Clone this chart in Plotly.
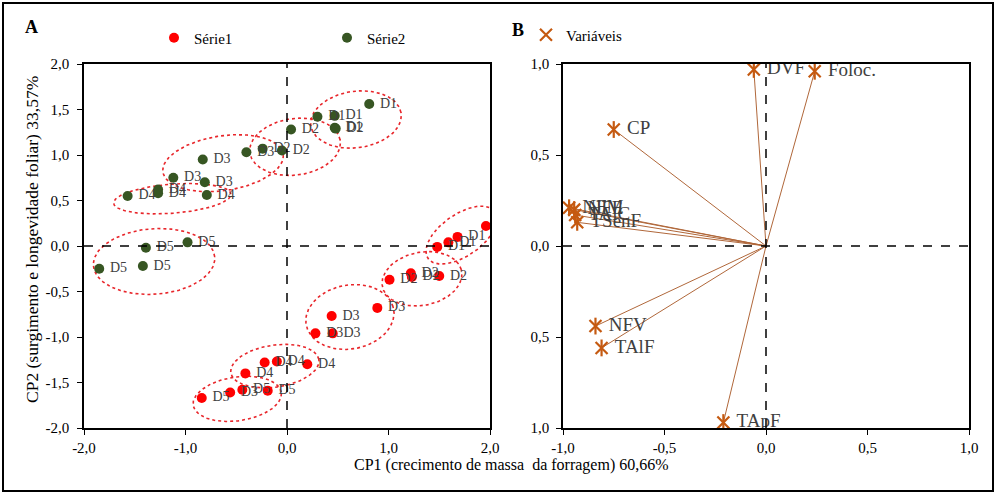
import numpy as np
import plotly.graph_objects as go

# ---------------- data ----------------
s1_x = [1.96, 1.68, 1.59, 1.48,
        1.01, 1.22, 1.23, 1.50,
        0.89, 0.44, 0.28, 0.45,
        -0.22, -0.10, 0.20, -0.41,
        -0.84, -0.56, -0.44, -0.19]
s1_y = [0.22, 0.10, 0.04, -0.01,
        -0.37, -0.30, -0.34, -0.33,
        -0.68, -0.77, -0.96, -0.96,
        -1.28, -1.27, -1.30, -1.40,
        -1.67, -1.61, -1.58, -1.59]
s1_lbl = ["D1", "D1", "D1", "D1",
          "D2", "D2", "D2", "D2",
          "D3", "D3", "D3", "D3",
          "D4", "D4", "D4", "D4",
          "D5", "D3", "D5", "D5"]

s2_x = [0.81, 0.30, 0.47, 0.47,
        0.04, 0.48, -0.05, -0.24,
        -0.40, -0.83, -1.12, -0.81,
        -1.27, -1.27, -0.79, -1.57,
        -0.98, -1.39, -1.42, -1.85]
s2_y = [1.56, 1.42, 1.43, 1.30,
        1.28, 1.29, 1.05, 1.07,
        1.03, 0.95, 0.75, 0.70,
        0.62, 0.58, 0.56, 0.55,
        0.04, -0.02, -0.22, -0.25]
s2_lbl = ["D1", "D1", "D1", "D1",
          "D2", "D2", "D2", "D2",
          "D3", "D3", "D3", "D3",
          "D4", "D4", "D4", "D4",
          "D5", "D5", "D5", "D5"]

# group ellipses: centre x, centre y, semi-axis x, semi-axis y, rotation (deg)
ell_cx = [0.68, 0.08, -0.63, -1.13, -1.31, 1.72, 1.33, 0.62, -0.12, -0.49]
ell_cy = [1.39, 1.09, 0.91, 0.52, -0.17, 0.12, -0.36, -0.78, -1.32, -1.68]
ell_rx = [0.45, 0.45, 0.60, 0.58, 0.60, 0.42, 0.40, 0.44, 0.44, 0.44]
ell_ry = [0.31, 0.31, 0.30, 0.16, 0.36, 0.22, 0.29, 0.35, 0.23, 0.24]
ell_ang = [10, 10, 10, 5, 5, 40, 15, 15, 10, 10]

var_names = ["DVF", "Foloc.", "CP", "NFM", "NFE", "TAlC", "TSenF", "NFV", "TAlF", "TApF"]
var_x = [-0.06, 0.24, -0.75, -0.97, -0.945, -0.94, -0.93, -0.84, -0.81, -0.21]
var_y = [0.97, 0.96, 0.64, 0.21, 0.20, 0.17, 0.13, -0.44, -0.56, -0.97]

a_yticks = [-2.0, -1.5, -1.0, -0.5, 0.0, 0.5, 1.0, 1.5, 2.0]
a_yticktext = ["-2,0", "-1,5", "-1,0", "-0,5", "0,0", "0,5", "1,0", "1,5", "2,0"]
a_xticks = [-2.0, -1.0, 0.0, 1.0, 2.0]
a_xticktext = ["-2,0", "-1,0", "0,0", "1,0", "2,0"]
b_xticks = [-1.0, -0.5, 0.0, 0.5, 1.0]
b_xticktext = ["-1,0", "-0,5", "0,0", "0,5", "1,0"]
b_yticks = [-1.0, -0.5, 0.0, 0.5, 1.0]
b_yticktext = ["1,0", "0,5", "0,0", "0,5", "1,0"]

# ---------------- styling ----------------
FONT = "Liberation Serif, Times New Roman, serif"
RED = "#ff0000"
GREEN = "#375623"
ORANGE = "#c55a11"
VLINE = "#b0673a"
TXT = "#404040"

W, H = 996, 494
def px(v):
    return v / W
def py(v):
    return 1 - v / H

fig = go.Figure()

# ellipses
t = np.linspace(0, 2 * np.pi, 200)
for cx, cy, rx, ry, ang in zip(ell_cx, ell_cy, ell_rx, ell_ry, ell_ang):
    a = np.deg2rad(ang)
    ex = cx + rx * np.cos(t) * np.cos(a) - ry * np.sin(t) * np.sin(a)
    ey = cy + rx * np.cos(t) * np.sin(a) + ry * np.sin(t) * np.cos(a)
    fig.add_trace(go.Scatter(x=ex, y=ey, mode="lines", xaxis="x", yaxis="y",
                             line=dict(color="#e8262b", width=1.6, dash="dot"),
                             showlegend=False, hoverinfo="skip"))

fig.add_trace(go.Scatter(x=s1_x, y=s1_y, text=s1_lbl, mode="markers+text", name="Série1",
                         xaxis="x", yaxis="y", legend="legend",
                         marker=dict(color=RED, size=10),
                         texttemplate="\u00a0%{text}",
                         textposition="middle right",
                         textfont=dict(family=FONT, size=14, color=TXT)))
fig.add_trace(go.Scatter(x=s2_x, y=s2_y, text=s2_lbl, mode="markers+text", name="Série2",
                         xaxis="x", yaxis="y", legend="legend",
                         marker=dict(color=GREEN, size=10),
                         texttemplate="\u00a0%{text}",
                         textposition="middle right",
                         textfont=dict(family=FONT, size=14, color=TXT)))

# panel B: vectors from origin
lx, ly = [], []
for vx, vy in zip(var_x, var_y):
    lx += [0, vx, None]
    ly += [0, vy, None]
fig.add_trace(go.Scatter(x=lx, y=ly, mode="lines", xaxis="x2", yaxis="y2",
                         line=dict(color=VLINE, width=1), showlegend=False, hoverinfo="skip"))
fig.add_trace(go.Scatter(x=var_x, y=var_y, mode="markers", xaxis="x2", yaxis="y2",
                         marker=dict(symbol="line-ns-open", size=12, color=ORANGE,
                                     line=dict(color=ORANGE, width=2.2)),
                         showlegend=False, hoverinfo="skip"))
fig.add_trace(go.Scatter(x=var_x, y=var_y, text=var_names, mode="markers+text", name="Variáveis",
                         xaxis="x2", yaxis="y2", legend="legend2",
                         marker=dict(symbol="x-thin-open", size=12, color=ORANGE,
                                     line=dict(color=ORANGE, width=2.2)),
                         texttemplate="\u00a0%{text}",
                         textposition="middle right",
                         textfont=dict(family=FONT, size=19, color=TXT)))

axis_common = dict(showline=True, linecolor="black", linewidth=1.5, mirror=True,
                   ticks="outside", ticklen=5, tickcolor="black", showgrid=False, zeroline=False,
                   automargin=False,
                   tickfont=dict(family=FONT, size=15, color="black"))

dom_y = [py(428), py(64)]
fig.update_layout(
    template="none",
    width=W, height=H,
    margin=dict(l=0, r=0, t=0, b=0, pad=0, autoexpand=False),
    paper_bgcolor="white", plot_bgcolor="white",
    font=dict(family=FONT, size=15, color="black"),
    xaxis=dict(domain=[px(84), px(490)], range=[-2, 2], tickvals=a_xticks, ticktext=a_xticktext,
               anchor="y", **axis_common),
    yaxis=dict(domain=dom_y, range=[-2, 2], tickvals=a_yticks, ticktext=a_yticktext,
               anchor="x", ticklabelstandoff=5, **axis_common),
    xaxis2=dict(domain=[px(563), px(969)], range=[-1, 1], tickvals=b_xticks, ticktext=b_xticktext,
                anchor="y2", **axis_common),
    yaxis2=dict(domain=dom_y, range=[-1, 1], tickvals=b_yticks, ticktext=b_yticktext,
                anchor="x2", ticklabelstandoff=4, **axis_common),
    legend=dict(orientation="h", x=px(154), y=py(38), xanchor="left", yanchor="middle",
                entrywidth=128, entrywidthmode="pixels", itemwidth=30,
                font=dict(family=FONT, size=15, color="black"), bgcolor="rgba(0,0,0,0)"),
    legend2=dict(orientation="h", x=px(526), y=py(35), xanchor="left", yanchor="middle",
                 itemwidth=30,
                 font=dict(family=FONT, size=15, color="black"), bgcolor="rgba(0,0,0,0)"),
    showlegend=True,
    hovermode="closest",
)

# dashed zero lines
for xr, yr in (("x", "y"), ("x2", "y2")):
    fig.add_shape(type="line", xref=xr, yref=yr + " domain", x0=0, x1=0, y0=0, y1=1,
                  line=dict(color="black", width=1.5, dash="dash"))
    fig.add_shape(type="line", xref=xr + " domain", yref=yr, x0=0, x1=1, y0=0, y1=0,
                  line=dict(color="black", width=1.5, dash="dash"))

# outer frame
fig.add_shape(type="rect", xref="paper", yref="paper", x0=px(3), x1=px(993), y0=py(491), y1=py(3),
              line=dict(color="black", width=2))

# annotations: panel letters and axis titles
fig.add_annotation(text="<b>A</b>", xref="paper", yref="paper", x=px(31), y=py(27),
                   xanchor="center", yanchor="middle",
                   showarrow=False, font=dict(family=FONT, size=18, color="black"))
fig.add_annotation(text="<b>B</b>", xref="paper", yref="paper", x=px(518), y=py(30),
                   xanchor="center", yanchor="middle",
                   showarrow=False, font=dict(family=FONT, size=18, color="black"))
fig.add_annotation(text="CP1 (crecimento de massa  da forragem) 60,66%", xref="paper", yref="paper",
                   x=px(512), y=py(465), xanchor="center", yanchor="middle",
                   showarrow=False, font=dict(family=FONT, size=16, color="black"))
fig.add_annotation(text="CP2 (surgimento e longevidade foliar) 33,57%", xref="paper", yref="paper",
                   x=px(32), y=py(240), xanchor="center", yanchor="middle", textangle=-90,
                   showarrow=False, font=dict(family=FONT, size=17.5, color="black"))

fig.write_html("out.html", config={"displayModeBar": False},
               post_script="document.body.style.margin='0px';")
